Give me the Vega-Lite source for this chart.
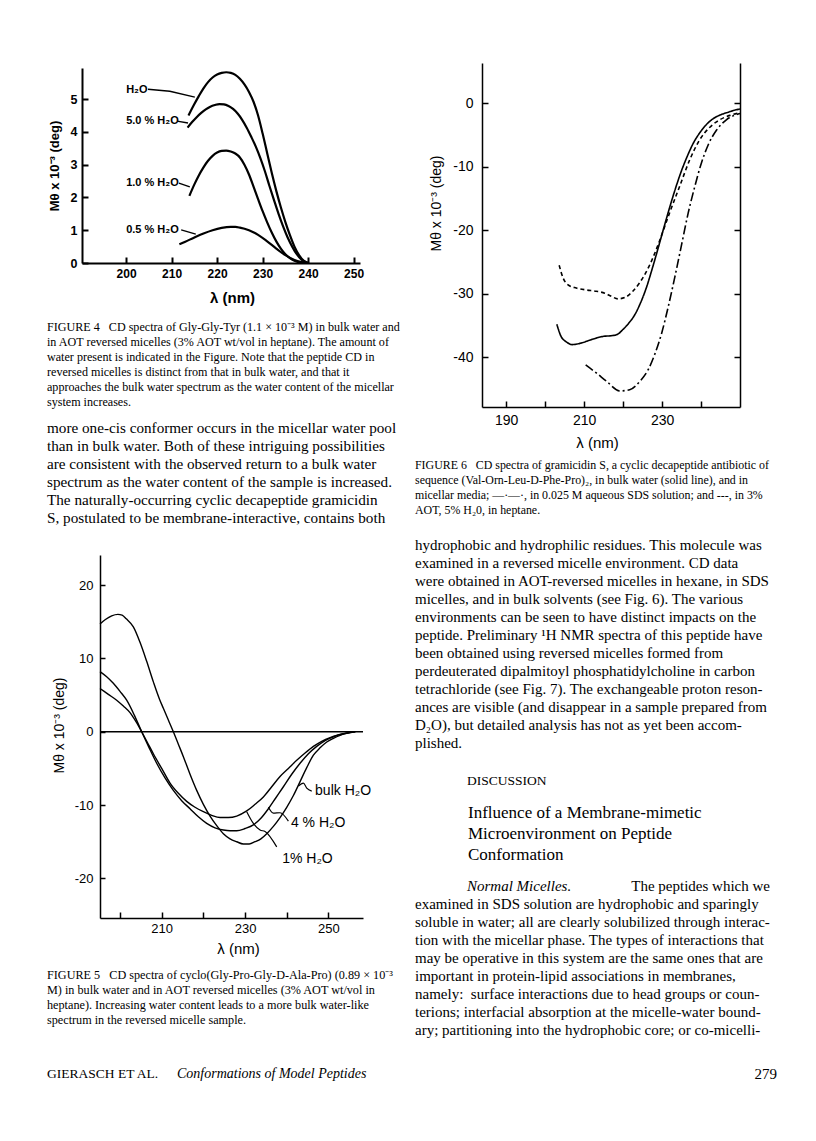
{
"$schema": "https://vega.github.io/schema/vega-lite/v6.json",
"width": 816, "height": 1141,
"autosize": {"type": "none"},
"padding": 0,
"background": "#ffffff",
"config": {
  "view": {"stroke": null},
  "axis": {"grid": false, "domainColor": "#000", "tickColor": "#000", "labelColor": "#000", "titleColor": "#000", "labelFont": "Liberation Sans", "titleFont": "Liberation Sans", "titleFontWeight": "normal", "labelFlush": false, "labelOverlap": false}
},
"resolve": {"scale": {"x": "independent", "y": "independent"}},
"layer": [
{
 "data": {"values": [
  {"k":"c","s":"H2O","nm":213.7,"v":4.5},{"k":"c","s":"H2O","nm":215,"v":4.85},{"k":"c","s":"H2O","nm":216,"v":5.1},{"k":"c","s":"H2O","nm":217,"v":5.33},{"k":"c","s":"H2O","nm":218,"v":5.52},{"k":"c","s":"H2O","nm":219,"v":5.66},{"k":"c","s":"H2O","nm":220,"v":5.75},{"k":"c","s":"H2O","nm":221,"v":5.8},{"k":"c","s":"H2O","nm":222,"v":5.82},{"k":"c","s":"H2O","nm":223,"v":5.8},{"k":"c","s":"H2O","nm":224,"v":5.74},{"k":"c","s":"H2O","nm":225,"v":5.62},{"k":"c","s":"H2O","nm":226,"v":5.45},{"k":"c","s":"H2O","nm":227,"v":5.22},{"k":"c","s":"H2O","nm":228,"v":4.92},{"k":"c","s":"H2O","nm":229,"v":4.5},{"k":"c","s":"H2O","nm":230,"v":3.95},{"k":"c","s":"H2O","nm":231,"v":3.35},{"k":"c","s":"H2O","nm":232,"v":2.75},{"k":"c","s":"H2O","nm":233,"v":2.2},{"k":"c","s":"H2O","nm":234,"v":1.7},{"k":"c","s":"H2O","nm":235,"v":1.25},{"k":"c","s":"H2O","nm":236,"v":0.85},{"k":"c","s":"H2O","nm":237,"v":0.5},{"k":"c","s":"H2O","nm":238,"v":0.24},{"k":"c","s":"H2O","nm":239,"v":0.07},{"k":"c","s":"H2O","nm":240,"v":0},
  {"k":"c","s":"5.0","nm":213.5,"v":4.13},{"k":"c","s":"5.0","nm":214.5,"v":4.3},{"k":"c","s":"5.0","nm":215.5,"v":4.45},{"k":"c","s":"5.0","nm":216.5,"v":4.58},{"k":"c","s":"5.0","nm":217.5,"v":4.69},{"k":"c","s":"5.0","nm":218.5,"v":4.77},{"k":"c","s":"5.0","nm":219.5,"v":4.82},{"k":"c","s":"5.0","nm":220.5,"v":4.85},{"k":"c","s":"5.0","nm":221.5,"v":4.84},{"k":"c","s":"5.0","nm":222.5,"v":4.79},{"k":"c","s":"5.0","nm":223.5,"v":4.7},{"k":"c","s":"5.0","nm":224.5,"v":4.56},{"k":"c","s":"5.0","nm":225.5,"v":4.37},{"k":"c","s":"5.0","nm":226.5,"v":4.13},{"k":"c","s":"5.0","nm":227.5,"v":3.85},{"k":"c","s":"5.0","nm":228.5,"v":3.55},{"k":"c","s":"5.0","nm":229.5,"v":3.2},{"k":"c","s":"5.0","nm":230.5,"v":2.8},{"k":"c","s":"5.0","nm":231.5,"v":2.35},{"k":"c","s":"5.0","nm":232.5,"v":1.92},{"k":"c","s":"5.0","nm":233.5,"v":1.5},{"k":"c","s":"5.0","nm":234.5,"v":1.12},{"k":"c","s":"5.0","nm":235.5,"v":0.78},{"k":"c","s":"5.0","nm":236.5,"v":0.5},{"k":"c","s":"5.0","nm":237.5,"v":0.27},{"k":"c","s":"5.0","nm":238.5,"v":0.11},{"k":"c","s":"5.0","nm":239.5,"v":0.02},{"k":"c","s":"5.0","nm":240.2,"v":0},
  {"k":"c","s":"1.0","nm":213.9,"v":2.05},{"k":"c","s":"1.0","nm":215,"v":2.4},{"k":"c","s":"1.0","nm":216,"v":2.68},{"k":"c","s":"1.0","nm":217,"v":2.92},{"k":"c","s":"1.0","nm":218,"v":3.12},{"k":"c","s":"1.0","nm":219,"v":3.27},{"k":"c","s":"1.0","nm":220,"v":3.37},{"k":"c","s":"1.0","nm":221,"v":3.42},{"k":"c","s":"1.0","nm":222,"v":3.43},{"k":"c","s":"1.0","nm":223,"v":3.4},{"k":"c","s":"1.0","nm":224,"v":3.34},{"k":"c","s":"1.0","nm":225,"v":3.22},{"k":"c","s":"1.0","nm":226,"v":3.0},{"k":"c","s":"1.0","nm":227,"v":2.7},{"k":"c","s":"1.0","nm":228,"v":2.33},{"k":"c","s":"1.0","nm":229,"v":1.95},{"k":"c","s":"1.0","nm":230,"v":1.58},{"k":"c","s":"1.0","nm":231,"v":1.24},{"k":"c","s":"1.0","nm":232,"v":0.93},{"k":"c","s":"1.0","nm":233,"v":0.66},{"k":"c","s":"1.0","nm":234,"v":0.44},{"k":"c","s":"1.0","nm":235,"v":0.27},{"k":"c","s":"1.0","nm":236,"v":0.15},{"k":"c","s":"1.0","nm":237,"v":0.07},{"k":"c","s":"1.0","nm":238,"v":0.02},{"k":"c","s":"1.0","nm":239.5,"v":0},
  {"k":"c","s":"0.5","nm":211.7,"v":0.57},{"k":"c","s":"0.5","nm":213,"v":0.65},{"k":"c","s":"0.5","nm":215,"v":0.78},{"k":"c","s":"0.5","nm":217,"v":0.9},{"k":"c","s":"0.5","nm":219,"v":1.0},{"k":"c","s":"0.5","nm":221,"v":1.07},{"k":"c","s":"0.5","nm":223,"v":1.1},{"k":"c","s":"0.5","nm":224,"v":1.1},{"k":"c","s":"0.5","nm":225,"v":1.08},{"k":"c","s":"0.5","nm":227,"v":1.0},{"k":"c","s":"0.5","nm":229,"v":0.86},{"k":"c","s":"0.5","nm":231,"v":0.66},{"k":"c","s":"0.5","nm":233,"v":0.44},{"k":"c","s":"0.5","nm":235,"v":0.24},{"k":"c","s":"0.5","nm":237,"v":0.09},{"k":"c","s":"0.5","nm":238.5,"v":0.03},{"k":"c","s":"0.5","nm":240,"v":0},
  {"k":"a","s":"aH2O","nm":204.8,"v":5.3},{"k":"a","s":"aH2O","nm":209.6,"v":5.24},{"k":"a","s":"aH2O","nm":215.1,"v":5.06},
  {"k":"a","s":"a5","nm":211.2,"v":4.33},{"k":"a","s":"a5","nm":213.6,"v":4.27},
  {"k":"a","s":"a1","nm":211.6,"v":2.44},{"k":"a","s":"a1","nm":214.0,"v":2.32},
  {"k":"a","s":"a05","nm":212.1,"v":1.01},{"k":"a","s":"a05","nm":215.3,"v":0.88},
  {"k":"t","s":"H₂O","nm":200.0,"v":5.27},
  {"k":"t","s":"5.0 % H₂O","nm":200.0,"v":4.34},
  {"k":"t","s":"1.0 % H₂O","nm":200.0,"v":2.45},
  {"k":"t","s":"0.5 % H₂O","nm":200.0,"v":1.0}
 ]},
 "encoding": {
  "x": {"field": "nm", "type": "quantitative", "scale": {"domain": [190.3, 251.4], "range": [82, 360], "nice": false, "zero": false},
        "axis": {"orient": "bottom", "offset": -878, "values": [200,210,220,230,240,250], "tickSize": -6, "tickWidth": 2, "domainWidth": 2, "labelPadding": 11, "labelFontSize": 12, "labelFontWeight": "bold", "title": "λ (nm)", "titleFontSize": 15, "titleFontWeight": "bold", "titlePadding": 11, "titleX": 232}},
  "y": {"field": "v", "type": "quantitative", "scale": {"domain": [0, 5.95], "range": [263, 68], "nice": false, "zero": false},
        "axis": {"orient": "left", "offset": -82, "values": [0,1,2,3,4,5], "tickSize": -6, "tickWidth": 2, "domainWidth": 2, "labelPadding": 11, "labelFontSize": 12.5, "labelFontWeight": "bold", "title": "Mθ x 10⁻³ (deg)", "titleFontSize": 13, "titleFontWeight": "bold", "titlePadding": 9}}
 },
 "layer": [
  {"transform": [{"filter": "datum.k == 'c'"}], "mark": {"type": "line", "interpolate": "monotone", "strokeWidth": 2.2, "color": "#000"}, "encoding": {"detail": {"field": "s"}}},
  {"transform": [{"filter": "datum.k == 'a'"}], "mark": {"type": "line", "strokeWidth": 1.4, "color": "#000"}, "encoding": {"detail": {"field": "s"}}},
  {"transform": [{"filter": "datum.k == 't'"}], "mark": {"type": "text", "align": "left", "baseline": "middle", "font": "Liberation Sans", "fontWeight": "bold", "fontSize": 11, "color": "#000"}, "encoding": {"text": {"field": "s"}}}
 ]
},
{
 "data": {"values": [
  {"s":"bulk","nm":203.0,"v":-34.8},{"s":"bulk","nm":204.0,"v":-36.6},{"s":"bulk","nm":205.5,"v":-37.6},{"s":"bulk","nm":207.0,"v":-38.0},{"s":"bulk","nm":209.0,"v":-37.8},{"s":"bulk","nm":211.0,"v":-37.4},{"s":"bulk","nm":213.0,"v":-37.0},{"s":"bulk","nm":215.0,"v":-36.7},{"s":"bulk","nm":217.0,"v":-36.6},{"s":"bulk","nm":218.5,"v":-36.4},{"s":"bulk","nm":220.0,"v":-35.6},{"s":"bulk","nm":221.5,"v":-34.6},{"s":"bulk","nm":223.0,"v":-33.3},{"s":"bulk","nm":224.5,"v":-31.4},{"s":"bulk","nm":226.0,"v":-29.0},{"s":"bulk","nm":227.5,"v":-26.0},{"s":"bulk","nm":229.0,"v":-22.8},{"s":"bulk","nm":230.5,"v":-19.5},{"s":"bulk","nm":232.0,"v":-16.3},{"s":"bulk","nm":233.5,"v":-13.3},{"s":"bulk","nm":235.0,"v":-10.6},{"s":"bulk","nm":236.5,"v":-8.3},{"s":"bulk","nm":238.0,"v":-6.3},{"s":"bulk","nm":239.5,"v":-4.8},{"s":"bulk","nm":241.0,"v":-3.6},{"s":"bulk","nm":242.5,"v":-2.7},{"s":"bulk","nm":244.0,"v":-2.1},{"s":"bulk","nm":245.5,"v":-1.7},{"s":"bulk","nm":247.0,"v":-1.4},{"s":"bulk","nm":248.5,"v":-1.1},{"s":"bulk","nm":250.0,"v":-0.9},
  {"s":"aot","nm":203.6,"v":-25.5},{"s":"aot","nm":204.6,"v":-27.5},{"s":"aot","nm":205.9,"v":-28.6},{"s":"aot","nm":208.0,"v":-29.1},{"s":"aot","nm":210.6,"v":-29.4},{"s":"aot","nm":213.1,"v":-29.6},{"s":"aot","nm":215.3,"v":-29.9},{"s":"aot","nm":217.0,"v":-30.4},{"s":"aot","nm":218.7,"v":-30.8},{"s":"aot","nm":220.4,"v":-30.6},{"s":"aot","nm":222.5,"v":-29.6},{"s":"aot","nm":224.2,"v":-28.3},{"s":"aot","nm":225.9,"v":-26.6},{"s":"aot","nm":227.6,"v":-24.4},{"s":"aot","nm":229.4,"v":-21.6},{"s":"aot","nm":231.9,"v":-17.3},{"s":"aot","nm":234.5,"v":-13.1},{"s":"aot","nm":237.1,"v":-8.9},{"s":"aot","nm":239.6,"v":-5.8},{"s":"aot","nm":242.2,"v":-3.8},{"s":"aot","nm":244.8,"v":-2.6},{"s":"aot","nm":247.4,"v":-1.9},{"s":"aot","nm":250.0,"v":-1.5},
  {"s":"sds","nm":210.4,"v":-41.2},{"s":"sds","nm":213.2,"v":-42.5},{"s":"sds","nm":215.8,"v":-43.8},{"s":"sds","nm":219.2,"v":-45.3},{"s":"sds","nm":221.7,"v":-45.1},{"s":"sds","nm":224.3,"v":-43.8},{"s":"sds","nm":226.4,"v":-42.0},{"s":"sds","nm":228.2,"v":-39.4},{"s":"sds","nm":229.9,"v":-36.2},{"s":"sds","nm":231.6,"v":-32.0},{"s":"sds","nm":233.3,"v":-27.3},{"s":"sds","nm":235.0,"v":-22.3},{"s":"sds","nm":236.7,"v":-17.3},{"s":"sds","nm":238.4,"v":-13.1},{"s":"sds","nm":240.1,"v":-9.4},{"s":"sds","nm":241.8,"v":-6.6},{"s":"sds","nm":244.0,"v":-4.2},{"s":"sds","nm":246.5,"v":-2.6},{"s":"sds","nm":250.0,"v":-1.6}
 ]},
 "mark": {"type": "line", "interpolate": "monotone", "strokeWidth": 1.6, "color": "#000"},
 "encoding": {
  "x": {"field": "nm", "type": "quantitative", "scale": {"domain": [183.8, 250], "range": [482, 740], "nice": false, "zero": false},
        "axis": {"orient": "bottom", "offset": -734, "values": [190,200,210,220,230,240], "labelExpr": "datum.value % 20 == 10 ? datum.label : ''", "tickSize": -6, "tickWidth": 1.5, "domainWidth": 1.5, "labelPadding": 12, "labelFontSize": 14, "title": "λ (nm)", "titleFontSize": 15, "titlePadding": 8, "titleX": 597}},
  "y": {"field": "v", "type": "quantitative", "scale": {"domain": [-47.83, 6.35], "range": [407, 63], "nice": false, "zero": false},
        "axis": {"orient": "left", "offset": -482, "values": [0,-10,-20,-30,-40], "labelExpr": "(datum.value < 0 ? '-' : '') + abs(datum.value)", "tickSize": -6, "tickWidth": 1.5, "domainWidth": 1.5, "labelPadding": 15, "labelFontSize": 14, "title": "Mθ x 10⁻³ (deg)", "titleFontSize": 14, "titlePadding": 9, "titleY": 203}},
  "detail": {"field": "s"},
  "strokeDash": {"field": "s", "type": "nominal", "scale": {"domain": ["bulk", "sds", "aot"], "range": [[1, 0], [9, 3, 2, 3], [4, 3]]}, "legend": null}
 }
},
{
 "data": {"values": [{"v": 0}]},
 "mark": {"type": "point", "opacity": 0},
 "encoding": {
  "y": {"field": "v", "type": "quantitative", "scale": {"domain": [-47.83, 6.35], "range": [407, 63], "nice": false, "zero": false},
        "axis": {"orient": "right", "offset": -76, "values": [0,-10,-20,-30,-40], "tickSize": -6, "tickWidth": 1.5, "domainWidth": 1.5, "labels": false, "title": null}}
 }
},
{
 "data": {"values": [
  {"k":"c","s":"bulk","nm":195.2,"v":14.7},{"k":"c","s":"bulk","nm":196.5,"v":15.3},{"k":"c","s":"bulk","nm":198.0,"v":15.8},{"k":"c","s":"bulk","nm":199.5,"v":16.0},{"k":"c","s":"bulk","nm":200.5,"v":15.9},{"k":"c","s":"bulk","nm":201.5,"v":15.4},{"k":"c","s":"bulk","nm":203.2,"v":14.3},{"k":"c","s":"bulk","nm":204.8,"v":12.2},{"k":"c","s":"bulk","nm":206.4,"v":9.6},{"k":"c","s":"bulk","nm":208.0,"v":6.8},{"k":"c","s":"bulk","nm":209.5,"v":4.4},{"k":"c","s":"bulk","nm":210.4,"v":3.2},{"k":"c","s":"bulk","nm":211.6,"v":1.6},{"k":"c","s":"bulk","nm":212.8,"v":0.0},{"k":"c","s":"bulk","nm":214.0,"v":-1.7},{"k":"c","s":"bulk","nm":215.2,"v":-3.4},{"k":"c","s":"bulk","nm":216.8,"v":-5.8},{"k":"c","s":"bulk","nm":218.4,"v":-8.0},{"k":"c","s":"bulk","nm":220.0,"v":-9.9},{"k":"c","s":"bulk","nm":221.6,"v":-11.5},{"k":"c","s":"bulk","nm":223.2,"v":-12.8},{"k":"c","s":"bulk","nm":224.8,"v":-13.9},{"k":"c","s":"bulk","nm":226.4,"v":-14.6},{"k":"c","s":"bulk","nm":228.0,"v":-15.0},{"k":"c","s":"bulk","nm":229.6,"v":-15.3},{"k":"c","s":"bulk","nm":231.0,"v":-15.3},{"k":"c","s":"bulk","nm":232.4,"v":-15.0},{"k":"c","s":"bulk","nm":233.8,"v":-14.6},{"k":"c","s":"bulk","nm":235.2,"v":-13.9},{"k":"c","s":"bulk","nm":236.8,"v":-12.9},{"k":"c","s":"bulk","nm":238.4,"v":-11.7},{"k":"c","s":"bulk","nm":240.0,"v":-10.3},{"k":"c","s":"bulk","nm":241.6,"v":-8.7},{"k":"c","s":"bulk","nm":243.2,"v":-6.8},{"k":"c","s":"bulk","nm":244.8,"v":-4.9},{"k":"c","s":"bulk","nm":246.4,"v":-3.2},{"k":"c","s":"bulk","nm":248.0,"v":-2.2},{"k":"c","s":"bulk","nm":249.6,"v":-1.4},{"k":"c","s":"bulk","nm":251.2,"v":-0.9},{"k":"c","s":"bulk","nm":252.8,"v":-0.5},{"k":"c","s":"bulk","nm":254.4,"v":-0.2},{"k":"c","s":"bulk","nm":255.8,"v":0.0},
  {"k":"c","s":"4","nm":195.2,"v":8.2},{"k":"c","s":"4","nm":196.8,"v":7.5},{"k":"c","s":"4","nm":198.4,"v":6.6},{"k":"c","s":"4","nm":200.0,"v":5.5},{"k":"c","s":"4","nm":201.6,"v":4.3},{"k":"c","s":"4","nm":203.4,"v":2.3},{"k":"c","s":"4","nm":205.2,"v":0.0},{"k":"c","s":"4","nm":207.0,"v":-2.2},{"k":"c","s":"4","nm":208.8,"v":-4.3},{"k":"c","s":"4","nm":210.8,"v":-6.3},{"k":"c","s":"4","nm":212.8,"v":-8.0},{"k":"c","s":"4","nm":214.8,"v":-9.4},{"k":"c","s":"4","nm":216.8,"v":-10.5},{"k":"c","s":"4","nm":218.8,"v":-11.6},{"k":"c","s":"4","nm":220.8,"v":-12.5},{"k":"c","s":"4","nm":222.8,"v":-13.1},{"k":"c","s":"4","nm":224.8,"v":-13.4},{"k":"c","s":"4","nm":226.4,"v":-13.5},{"k":"c","s":"4","nm":228.0,"v":-13.5},{"k":"c","s":"4","nm":230.0,"v":-13.2},{"k":"c","s":"4","nm":232.0,"v":-12.7},{"k":"c","s":"4","nm":233.8,"v":-11.8},{"k":"c","s":"4","nm":235.6,"v":-10.5},{"k":"c","s":"4","nm":237.4,"v":-9.0},{"k":"c","s":"4","nm":239.2,"v":-7.5},{"k":"c","s":"4","nm":241.2,"v":-5.8},{"k":"c","s":"4","nm":243.2,"v":-4.3},{"k":"c","s":"4","nm":245.2,"v":-3.0},{"k":"c","s":"4","nm":247.2,"v":-2.0},{"k":"c","s":"4","nm":249.2,"v":-1.2},{"k":"c","s":"4","nm":251.2,"v":-0.7},{"k":"c","s":"4","nm":253.2,"v":-0.3},{"k":"c","s":"4","nm":255.2,"v":-0.1},{"k":"c","s":"4","nm":256.5,"v":0.0},
  {"k":"c","s":"1","nm":195.2,"v":5.9},{"k":"c","s":"1","nm":197.2,"v":5.1},{"k":"c","s":"1","nm":199.2,"v":4.3},{"k":"c","s":"1","nm":200.8,"v":3.5},{"k":"c","s":"1","nm":202.4,"v":2.6},{"k":"c","s":"1","nm":203.8,"v":1.4},{"k":"c","s":"1","nm":205.2,"v":0.0},{"k":"c","s":"1","nm":206.6,"v":-1.5},{"k":"c","s":"1","nm":208.0,"v":-3.0},{"k":"c","s":"1","nm":210.0,"v":-5.0},{"k":"c","s":"1","nm":212.0,"v":-7.0},{"k":"c","s":"1","nm":214.0,"v":-8.4},{"k":"c","s":"1","nm":216.0,"v":-9.5},{"k":"c","s":"1","nm":218.0,"v":-10.3},{"k":"c","s":"1","nm":220.0,"v":-10.9},{"k":"c","s":"1","nm":222.0,"v":-11.4},{"k":"c","s":"1","nm":224.0,"v":-11.7},{"k":"c","s":"1","nm":226.0,"v":-11.7},{"k":"c","s":"1","nm":228.0,"v":-11.5},{"k":"c","s":"1","nm":230.4,"v":-10.8},{"k":"c","s":"1","nm":232.4,"v":-9.9},{"k":"c","s":"1","nm":234.4,"v":-8.9},{"k":"c","s":"1","nm":236.4,"v":-7.5},{"k":"c","s":"1","nm":238.4,"v":-6.1},{"k":"c","s":"1","nm":240.4,"v":-5.0},{"k":"c","s":"1","nm":242.4,"v":-3.9},{"k":"c","s":"1","nm":244.4,"v":-2.9},{"k":"c","s":"1","nm":246.4,"v":-2.0},{"k":"c","s":"1","nm":248.4,"v":-1.3},{"k":"c","s":"1","nm":250.4,"v":-0.8},{"k":"c","s":"1","nm":252.4,"v":-0.45},{"k":"c","s":"1","nm":254.4,"v":-0.2},{"k":"c","s":"1","nm":256.4,"v":0.0},
  {"k":"c","s":"zero","nm":195.2,"v":0},{"k":"c","s":"zero","nm":258.3,"v":0},
  {"k":"a","s":"abulk","nm":242.8,"v":-7.4},{"k":"a","s":"abulk","nm":244.0,"v":-7.0},{"k":"a","s":"abulk","nm":244.8,"v":-7.7},{"k":"a","s":"abulk","nm":246.0,"v":-8.1},
  {"k":"a","s":"a4","nm":235.6,"v":-10.3},{"k":"a","s":"a4","nm":236.8,"v":-11.1},{"k":"a","s":"a4","nm":238.4,"v":-11.05},{"k":"a","s":"a4","nm":240.4,"v":-12.2},
  {"k":"a","s":"a1","nm":230.4,"v":-10.9},{"k":"a","s":"a1","nm":232.0,"v":-12.5},{"k":"a","s":"a1","nm":233.6,"v":-13.4},{"k":"a","s":"a1","nm":234.8,"v":-13.6},{"k":"a","s":"a1","nm":237.6,"v":-15.7},
  {"k":"t","s":"bulk H₂O","nm":246.8,"v":-8.1},
  {"k":"t","s":"4 % H₂O","nm":241.0,"v":-12.5},
  {"k":"t","s":"1% H₂O","nm":238.9,"v":-17.3}
 ]},
 "encoding": {
  "x": {"field": "nm", "type": "quantitative", "scale": {"domain": [195.2, 258.3], "range": [100, 363], "nice": false, "zero": false},
        "axis": {"orient": "bottom", "offset": -223, "values": [200,210,220,230,240,250], "labelExpr": "datum.value % 20 == 10 ? datum.label : ''", "tickSize": -6, "tickWidth": 1.5, "domainWidth": 1.5, "labelPadding": 10, "labelFontSize": 13, "title": "λ (nm)", "titleFontSize": 15, "titlePadding": 6, "titleX": 238}},
  "y": {"field": "v", "type": "quantitative", "scale": {"domain": [-25.4, 24.1], "range": [918, 555], "nice": false, "zero": false},
        "axis": {"orient": "left", "offset": -100, "values": [20,10,0,-10,-20], "labelExpr": "(datum.value < 0 ? '-' : '') + abs(datum.value)", "tickSize": -5, "tickWidth": 1.5, "domainWidth": 1.5, "labelPadding": 12, "labelFontSize": 13, "title": "Mθ x 10⁻³ (deg)", "titleFontSize": 14, "titlePadding": 8, "titleY": 725}}
 },
 "layer": [
  {"transform": [{"filter": "datum.k == 'c'"}], "mark": {"type": "line", "interpolate": "monotone", "strokeWidth": 1.4, "color": "#000"}, "encoding": {"detail": {"field": "s"}}},
  {"transform": [{"filter": "datum.k == 'a'"}], "mark": {"type": "line", "interpolate": "monotone", "strokeWidth": 1.2, "color": "#000"}, "encoding": {"detail": {"field": "s"}}},
  {"transform": [{"filter": "datum.k == 't'"}], "mark": {"type": "text", "align": "left", "baseline": "middle", "font": "Liberation Sans", "fontSize": 14, "color": "#000"}, "encoding": {"text": {"field": "s"}}}
 ]
},
{
 "data": {"values": [
  {"i":0,"t":"FIGURE 4\u00a0\u00a0\u00a0CD spectra of Gly-Gly-Tyr (1.1 × 10⁻³ M) in bulk water and"},
  {"i":1,"t":"in AOT reversed micelles (3% AOT wt/vol in heptane). The amount of"},
  {"i":2,"t":"water present is indicated in the Figure. Note that the peptide CD in"},
  {"i":3,"t":"reversed micelles is distinct from that in bulk water, and that it"},
  {"i":4,"t":"approaches the bulk water spectrum as the water content of the micellar"},
  {"i":5,"t":"system increases."}
 ]},
 "mark": {"type": "text", "align": "left", "baseline": "middle", "font": "Liberation Serif", "fontSize": 12.1, "color": "#000"},
 "encoding": {
  "x": {"datum": 0, "type": "quantitative", "scale": {"domain": [0, 1], "range": [47, 400]}, "axis": null},
  "y": {"field": "i", "type": "ordinal", "scale": {"type": "point", "padding": 0, "range": [327, 402]}, "axis": null},
  "text": {"field": "t"}
 }
},
{
 "data": {"values": [
  {"i":0,"t":"more one-cis conformer occurs in the micellar water pool"},
  {"i":1,"t":"than in bulk water. Both of these intriguing possibilities"},
  {"i":2,"t":"are consistent with the observed return to a bulk water"},
  {"i":3,"t":"spectrum as the water content of the sample is increased."},
  {"i":4,"t":"\u00a0\u00a0\u00a0The naturally-occurring cyclic decapeptide gramicidin"},
  {"i":5,"t":"S, postulated to be membrane-interactive, contains both"}
 ]},
 "mark": {"type": "text", "align": "left", "baseline": "middle", "font": "Liberation Serif", "fontSize": 15.2, "color": "#000"},
 "encoding": {
  "x": {"datum": 0, "type": "quantitative", "scale": {"domain": [0, 1], "range": [47, 400]}, "axis": null},
  "y": {"field": "i", "type": "ordinal", "scale": {"type": "point", "padding": 0, "range": [428, 518]}, "axis": null},
  "text": {"field": "t"}
 }
},
{
 "data": {"values": [
  {"i":0,"t":"FIGURE 5\u00a0\u00a0\u00a0CD spectra of cyclo(Gly-Pro-Gly-D-Ala-Pro) (0.89 × 10⁻³"},
  {"i":1,"t":"M) in bulk water and in AOT reversed micelles (3% AOT wt/vol in"},
  {"i":2,"t":"heptane). Increasing water content leads to a more bulk water-like"},
  {"i":3,"t":"spectrum in the reversed micelle sample."}
 ]},
 "mark": {"type": "text", "align": "left", "baseline": "middle", "font": "Liberation Serif", "fontSize": 12.2, "color": "#000"},
 "encoding": {
  "x": {"datum": 0, "type": "quantitative", "scale": {"domain": [0, 1], "range": [47, 400]}, "axis": null},
  "y": {"field": "i", "type": "ordinal", "scale": {"type": "point", "padding": 0, "range": [975, 1020]}, "axis": null},
  "text": {"field": "t"}
 }
},
{
 "data": {"values": [
  {"i":0,"t":"FIGURE 6\u00a0\u00a0\u00a0CD spectra of gramicidin S, a cyclic decapeptide antibiotic of"},
  {"i":1,"t":"sequence (Val-Orn-Leu-D-Phe-Pro)₂, in bulk water (solid line), and in"},
  {"i":2,"t":"micellar media; —·—·, in 0.025 M aqueous SDS solution; and ---, in 3%"},
  {"i":3,"t":"AOT, 5% H₂0, in heptane."}
 ]},
 "mark": {"type": "text", "align": "left", "baseline": "middle", "font": "Liberation Serif", "fontSize": 11.9, "color": "#000"},
 "encoding": {
  "x": {"datum": 0, "type": "quantitative", "scale": {"domain": [0, 1], "range": [415, 770]}, "axis": null},
  "y": {"field": "i", "type": "ordinal", "scale": {"type": "point", "padding": 0, "range": [465, 510]}, "axis": null},
  "text": {"field": "t"}
 }
},
{
 "data": {"values": [
  {"i":0,"t":"hydrophobic and hydrophilic residues. This molecule was"},
  {"i":1,"t":"examined in a reversed micelle environment. CD data"},
  {"i":2,"t":"were obtained in AOT-reversed micelles in hexane, in SDS"},
  {"i":3,"t":"micelles, and in bulk solvents (see Fig. 6). The various"},
  {"i":4,"t":"environments can be seen to have distinct impacts on the"},
  {"i":5,"t":"peptide. Preliminary ¹H NMR spectra of this peptide have"},
  {"i":6,"t":"been obtained using reversed micelles formed from"},
  {"i":7,"t":"perdeuterated dipalmitoyl phosphatidylcholine in carbon"},
  {"i":8,"t":"tetrachloride (see Fig. 7). The exchangeable proton reson-"},
  {"i":9,"t":"ances are visible (and disappear in a sample prepared from"},
  {"i":10,"t":"D₂O), but detailed analysis has not as yet been accom-"},
  {"i":11,"t":"plished."}
 ]},
 "mark": {"type": "text", "align": "left", "baseline": "middle", "font": "Liberation Serif", "fontSize": 15, "color": "#000"},
 "encoding": {
  "x": {"datum": 0, "type": "quantitative", "scale": {"domain": [0, 1], "range": [415, 770]}, "axis": null},
  "y": {"field": "i", "type": "ordinal", "scale": {"type": "point", "padding": 0, "range": [545, 743]}, "axis": null},
  "text": {"field": "t"}
 }
},
{
 "data": {"values": [{"i":0,"t":"DISCUSSION"}]},
 "mark": {"type": "text", "align": "left", "baseline": "middle", "font": "Liberation Serif", "fontSize": 13.5, "color": "#000"},
 "encoding": {
  "x": {"datum": 0, "type": "quantitative", "scale": {"domain": [0, 1], "range": [467, 770]}, "axis": null},
  "y": {"field": "i", "type": "ordinal", "scale": {"type": "point", "padding": 0, "range": [781, 781]}, "axis": null},
  "text": {"field": "t"}
 }
},
{
 "data": {"values": [
  {"i":0,"t":"Influence of a Membrane-mimetic"},
  {"i":1,"t":"Microenvironment on Peptide"},
  {"i":2,"t":"Conformation"}
 ]},
 "mark": {"type": "text", "align": "left", "baseline": "middle", "font": "Liberation Serif", "fontSize": 17, "color": "#000"},
 "encoding": {
  "x": {"datum": 0, "type": "quantitative", "scale": {"domain": [0, 1], "range": [468, 770]}, "axis": null},
  "y": {"field": "i", "type": "ordinal", "scale": {"type": "point", "padding": 0, "range": [813, 855]}, "axis": null},
  "text": {"field": "t"}
 }
},
{
 "data": {"values": [{"i":0,"t":"Normal Micelles."}]},
 "mark": {"type": "text", "align": "left", "baseline": "middle", "font": "Liberation Serif", "fontStyle": "italic", "fontSize": 15, "color": "#000"},
 "encoding": {
  "x": {"datum": 0, "type": "quantitative", "scale": {"domain": [0, 1], "range": [467, 770]}, "axis": null},
  "y": {"field": "i", "type": "ordinal", "scale": {"type": "point", "padding": 0, "range": [886, 886]}, "axis": null},
  "text": {"field": "t"}
 }
},
{
 "data": {"values": [{"i":0,"t":"The peptides which we"}]},
 "mark": {"type": "text", "align": "right", "baseline": "middle", "font": "Liberation Serif", "fontSize": 15, "color": "#000"},
 "encoding": {
  "x": {"datum": 1, "type": "quantitative", "scale": {"domain": [0, 1], "range": [415, 770]}, "axis": null},
  "y": {"field": "i", "type": "ordinal", "scale": {"type": "point", "padding": 0, "range": [886, 886]}, "axis": null},
  "text": {"field": "t"}
 }
},
{
 "data": {"values": [
  {"i":0,"t":"examined in SDS solution are hydrophobic and sparingly"},
  {"i":1,"t":"soluble in water; all are clearly solubilized through interac-"},
  {"i":2,"t":"tion with the micellar phase. The types of interactions that"},
  {"i":3,"t":"may be operative in this system are the same ones that are"},
  {"i":4,"t":"important in protein-lipid associations in membranes,"},
  {"i":5,"t":"namely:\u00a0 surface interactions due to head groups or coun-"},
  {"i":6,"t":"terions; interfacial absorption at the micelle-water bound-"},
  {"i":7,"t":"ary; partitioning into the hydrophobic core; or co-micelli-"}
 ]},
 "mark": {"type": "text", "align": "left", "baseline": "middle", "font": "Liberation Serif", "fontSize": 15, "color": "#000"},
 "encoding": {
  "x": {"datum": 0, "type": "quantitative", "scale": {"domain": [0, 1], "range": [415, 770]}, "axis": null},
  "y": {"field": "i", "type": "ordinal", "scale": {"type": "point", "padding": 0, "range": [904, 1030]}, "axis": null},
  "text": {"field": "t"}
 }
},
{
 "data": {"values": [{"i":0,"t":"GIERASCH ET AL."}]},
 "mark": {"type": "text", "align": "left", "baseline": "middle", "font": "Liberation Serif", "fontSize": 13.5, "color": "#000"},
 "encoding": {
  "x": {"datum": 0, "type": "quantitative", "scale": {"domain": [0, 1], "range": [47, 400]}, "axis": null},
  "y": {"field": "i", "type": "ordinal", "scale": {"type": "point", "padding": 0, "range": [1074, 1074]}, "axis": null},
  "text": {"field": "t"}
 }
},
{
 "data": {"values": [{"i":0,"t":"Conformations of Model Peptides"}]},
 "mark": {"type": "text", "align": "left", "baseline": "middle", "font": "Liberation Serif", "fontStyle": "italic", "fontSize": 14, "color": "#000"},
 "encoding": {
  "x": {"datum": 0, "type": "quantitative", "scale": {"domain": [0, 1], "range": [177, 400]}, "axis": null},
  "y": {"field": "i", "type": "ordinal", "scale": {"type": "point", "padding": 0, "range": [1074, 1074]}, "axis": null},
  "text": {"field": "t"}
 }
},
{
 "data": {"values": [{"i":0,"t":"279"}]},
 "mark": {"type": "text", "align": "right", "baseline": "middle", "font": "Liberation Serif", "fontSize": 15, "color": "#000"},
 "encoding": {
  "x": {"datum": 1, "type": "quantitative", "scale": {"domain": [0, 1], "range": [415, 777]}, "axis": null},
  "y": {"field": "i", "type": "ordinal", "scale": {"type": "point", "padding": 0, "range": [1074, 1074]}, "axis": null},
  "text": {"field": "t"}
 }
}
]
}
